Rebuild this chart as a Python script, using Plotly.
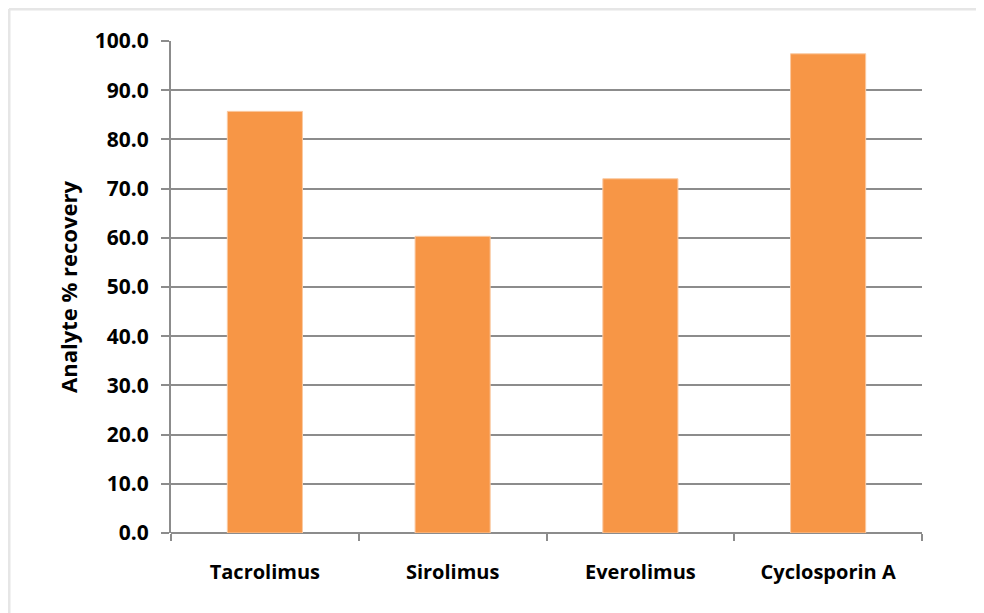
import plotly.graph_objects as go

categories = ["Tacrolimus", "Sirolimus", "Everolimus", "Cyclosporin A"]
recovery = [85.7, 60.3, 72.0, 97.4]
y_ticks = [0, 10, 20, 30, 40, 50, 60, 70, 80, 90, 100]
y_tick_labels = [f"{v:.1f}" for v in y_ticks]

FONT = "Open Sans"
GRID = "#8c8c8c"

fig = go.Figure()
fig.add_trace(go.Bar(
    x=categories, y=recovery,
    marker=dict(color="#F79646", line=dict(color="#FAC9A1", width=1)),
    width=0.4,
))

W, H = 976, 605
L, T = 163, 33
R = W - 914
B = H - 525
PW, PH = W - L - R, H - T - B

fig.update_layout(
    width=W, height=H,
    margin=dict(l=L, r=R, t=T, b=B),
    paper_bgcolor="white", plot_bgcolor="white",
    showlegend=False,
    font=dict(family=FONT, color="black"),
    xaxis=dict(
        type="category",
        tickson="boundaries", ticks="outside", ticklen=7, tickwidth=2, tickcolor=GRID,
        showline=False, showgrid=False,
        tickfont=dict(family=FONT, size=20, color="black", weight="bold"),
        ticklabelstandoff=25,
        range=[-0.5, 3.5],
    ),
    yaxis=dict(
        range=[0, 100], tickvals=y_ticks, ticktext=y_tick_labels,
        showgrid=True, gridcolor=GRID, gridwidth=2,
        showline=True, linecolor=GRID, linewidth=2,
        zeroline=True, zerolinecolor=GRID, zerolinewidth=2,
        ticks="outside", ticklen=8, tickwidth=2, tickcolor=GRID,
        tickfont=dict(family=FONT, size=21, color="black", weight="bold"),
        ticklabelstandoff=8,
        title=dict(text="Analyte % recovery", font=dict(family=FONT, size=22, color="black", weight="bold"), standoff=11),
    ),
)

# outer chart border (light gray)
x0 = (1 - L) / PW
y1 = (H - B - 1) / PH
fig.add_shape(type="line", xref="paper", yref="paper", x0=x0, x1=(W + 5 - L) / PW, y0=y1, y1=y1,
              line=dict(color="#e6e6e6", width=3), layer="below")
fig.add_shape(type="line", xref="paper", yref="paper", x0=x0, x1=x0, y0=y1, y1=-(B + 5) / PH,
              line=dict(color="#e6e6e6", width=3), layer="below")

fig.write_html("out.html")
